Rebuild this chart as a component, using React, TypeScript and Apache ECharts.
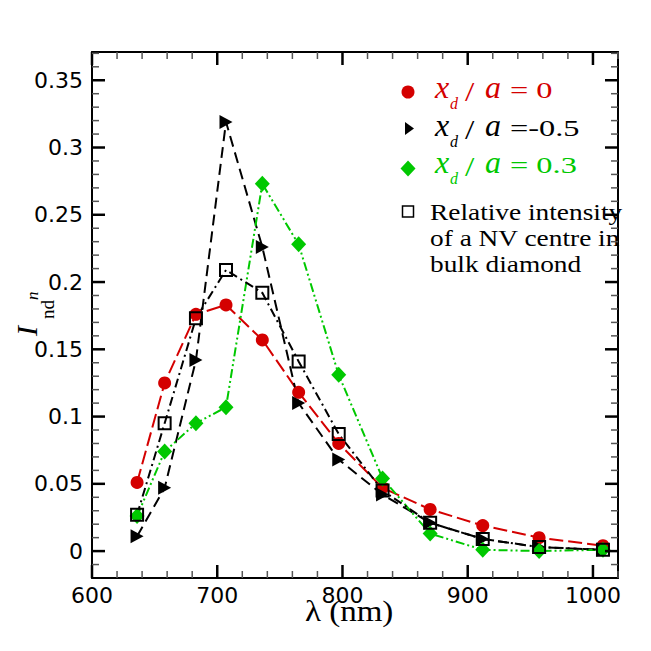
import { useRef, useEffect } from 'react';
import * as echarts from 'echarts';

// wavelengths (nm) shared by every curve
const lambda = [636, 658, 683, 707, 736, 765, 797, 832, 870, 912, 957, 1008];
// normalised intensity per defect position
const xd0 = [0.051, 0.125, 0.176, 0.183, 0.157, 0.118, 0.080, 0.047, 0.031, 0.019, 0.010, 0.004];
const xdNeg05 = [0.011, 0.047, 0.142, 0.319, 0.226, 0.110, 0.068, 0.042, 0.021, 0.009, 0.003, 0.001];
const xd03 = [0.026, 0.074, 0.095, 0.107, 0.273, 0.228, 0.131, 0.054, 0.013, 0.001, 0.000, 0.001];
const bulk = [0.027, 0.095, 0.173, 0.209, 0.192, 0.141, 0.087, 0.045, 0.021, 0.009, 0.003, 0.001];

const xTicks = [600, 700, 800, 900, 1000];
const yTicks = [0, 0.05, 0.1, 0.15, 0.2, 0.25, 0.3, 0.35];

const RED = '#d40000';
const GREEN = '#00c800';
const SERIF = 'Liberation Serif';

const X_MIN = 600, X_MAX = 1020;
const Y_MIN = -0.02, Y_MAX = 0.371;
const GRID = { left: 92, right: 33, top: 52, bottom: 73 };
const W = 651, H = 651;

const pts = (ys: number[]) => lambda.map((l, i) => [l, ys[i]]);

// minor tick steps between the labelled ones
function minorValues(from: number, to: number, step: number, major: number[]) {
  const out: number[] = [];
  for (let v = from; v <= to + 1e-9; v += step) {
    const r = Math.round(v * 1000) / 1000;
    if (!major.some((m) => Math.abs(m - r) < 1e-9)) out.push(r);
  }
  return out;
}

// text placed by its baseline; zrender svg draws with a central baseline
function txt(x: number, base: number, text: string, size: number, o: { italic?: boolean; color?: string; sx?: number; font?: string } = {}) {
  return {
    type: 'text', x, y: base - 0.3 * size, scaleX: o.sx ?? 1,
    style: {
      text, fontFamily: o.font ?? SERIF, fontSize: size, fontStyle: o.italic ? 'italic' : 'normal',
      fill: o.color ?? '#000', align: 'left', verticalAlign: 'middle',
    },
  };
}

function legendRow(base: number, value: string, color: string) {
  return [
    txt(435, base, 'x', 32, { italic: true, color }),
    txt(450, base + 11, 'd', 16, { italic: true, color }),
    txt(465, base + 3, '/', 28, { color, sx: 1.2 }),
    txt(485, base, 'a', 32, { italic: true, color }),
    txt(510, base, value, 24, { color, sx: 1.35 }),
  ];
}

const fmt = (v: number) => String(v);

function frameAxis(kind: 'x' | 'y', position: string, labels: number[] | null) {
  const isX = kind === 'x';
  return {
    type: 'value', position,
    min: isX ? X_MIN : Y_MIN, max: isX ? X_MAX : Y_MAX,
    interval: isX ? 100 : 0.01,
    axisLine: { show: true, onZero: false, lineStyle: { color: '#000', width: 2 } },
    axisTick: { show: false },
    axisLabel: labels
      ? { show: true, customValues: labels, formatter: fmt, color: '#000', fontFamily: 'DejaVu Sans', fontSize: 22, margin: isX ? 6 : 9 }
      : { show: false },
    splitLine: { show: false },
  };
}

function series(name: string, ys: number[], color: string, symbol: string, size: any, dash: number[], extra: any = {}) {
  return {
    name, type: 'line', data: pts(ys), xAxisIndex: 0, yAxisIndex: 0,
    symbol, symbolSize: size,
    lineStyle: { color, width: 2, type: dash },
    itemStyle: { color },
    ...extra,
  };
}

const legendGraphics = [
  { type: 'circle', shape: { cx: 408, cy: 92, r: 6.5 }, style: { fill: RED } },
  ...legendRow(97, '= 0', RED),
  { type: 'polygon', shape: { points: [[405, 122], [414, 128.5], [405, 135]] }, style: { fill: '#000' } },
  ...legendRow(135, '=-0.5', '#000'),
  { type: 'polygon', shape: { points: [[408, 160.5], [415.5, 168.5], [408, 176.5], [400.5, 168.5]] }, style: { fill: GREEN } },
  ...legendRow(172, '= 0.3', GREEN),
  { type: 'rect', shape: { x: 402.5, y: 206, width: 11, height: 11 }, style: { fill: 'none', stroke: '#000', lineWidth: 1.5 } },
  txt(430, 219, 'Relative intensity', 23, { sx: 1.19 }),
  txt(430, 245, 'of a NV centre in', 23, { sx: 1.19 }),
  txt(430, 271, 'bulk diamond', 23, { sx: 1.19 }),
  // axis names
  txt(305, 620, 'λ (nm)', 30, { sx: 1.1 }),
  {
    type: 'group', x: 35, y: 336, rotation: Math.PI / 2,
    children: [
      txt(0, 0, 'I', 30, { italic: true }),
      txt(17, 18, 'nd', 19),
      txt(36, 3, 'n', 17, { italic: true }),
    ],
  },
];

export default function App() {
  const ref = useRef<HTMLDivElement>(null);

  useEffect(() => {
    if (!ref.current) return;
    const chart = echarts.init(ref.current, undefined, { renderer: 'svg' });

    chart.setOption({
      animation: false,
      backgroundColor: '#fff',
      grid: GRID,
      xAxis: [frameAxis('x', 'bottom', xTicks), frameAxis('x', 'top', null)],
      yAxis: [frameAxis('y', 'left', yTicks), frameAxis('y', 'right', null)],
      series: [
        series('x_d/a=0', xd0, RED, 'circle', 13, [14, 5]),
        series('x_d/a=-0.5', xdNeg05, '#000', 'triangle', [14, 13], [11, 6], { symbolRotate: -90 }),
        series('x_d/a=0.3', xd03, GREEN, 'diamond', [15, 16], [9, 3, 2, 3, 2, 3]),
        series('bulk', bulk, '#000', 'rect', 12, [9, 4, 2, 4], {
          itemStyle: { color: 'rgba(0,0,0,0)', borderColor: '#000', borderWidth: 2 },
        }),
      ],
      graphic: legendGraphics,
    } as any);

    // inward ticks on all four sides, placed through the axes' own scales
    const L = GRID.left, R = W - GRID.right, T = GRID.top, B = H - GRID.bottom;
    const ticks: any[] = [];
    const tick = (x1: number, y1: number, x2: number, y2: number, major: boolean) =>
      ticks.push({
        type: 'line', silent: true, z: 5,
        shape: { x1, y1, x2, y2 },
        style: major ? { stroke: '#000', lineWidth: 2.5 } : { stroke: '#555', lineWidth: 1.5 },
      });
    const xMinor = minorValues(620, 1020, 20, xTicks);
    const yMinor = minorValues(-0.01, 0.37, 0.01, yTicks);
    [...xTicks.map((v) => [v, 1]), ...xMinor.map((v) => [v, 0])].forEach(([v, m]) => {
      const px = chart.convertToPixel({ xAxisIndex: 0 }, v) as number;
      const len = m ? 13 : 7;
      tick(px, B, px, B - len, !!m);
      tick(px, T, px, T + len, !!m);
    });
    [...yTicks.map((v) => [v, 1]), ...yMinor.map((v) => [v, 0])].forEach(([v, m]) => {
      const py = chart.convertToPixel({ yAxisIndex: 0 }, v) as number;
      const len = m ? 13 : 7;
      tick(L, py, L + len, py, !!m);
      tick(R, py, R - len, py, !!m);
    });
    chart.setOption({ graphic: [...legendGraphics, ...ticks] } as any);

    return () => chart.dispose();
  }, []);

  return <div ref={ref} style={{ position: 'absolute', left: 0, top: 0, width: W, height: H }} />;
}
